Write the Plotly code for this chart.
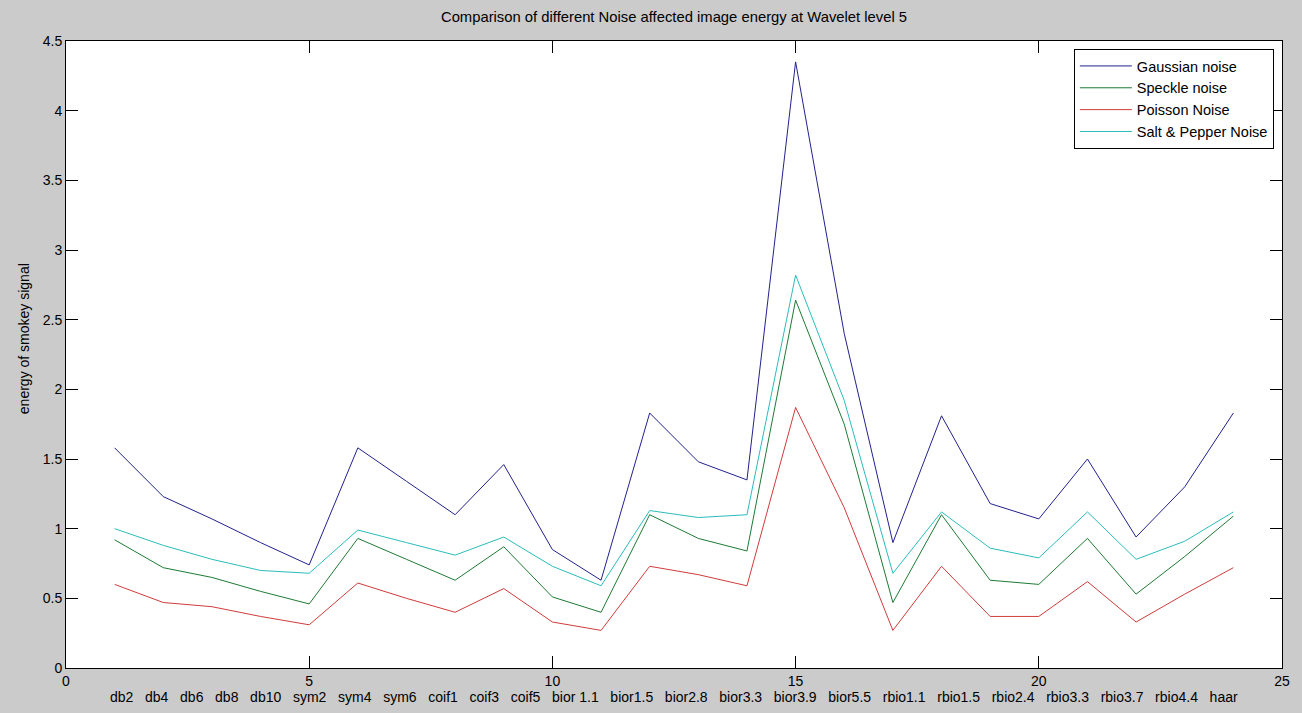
import plotly.graph_objects as go

# Data
x_index = list(range(1, 25))
wavelets = ["db2", "db4", "db6", "db8", "db10", "sym2", "sym4", "sym6", "coif1", "coif3",
            "coif5", "bior 1.1", "bior1.5", "bior2.8", "bior3.3", "bior3.9", "bior5.5",
            "rbio1.1", "rbio1.5", "rbio2.4", "rbio3.3", "rbio3.7", "rbio4.4", "haar"]
gaussian = [1.58, 1.23, 1.07, 0.90, 0.74, 1.58, 1.34, 1.10, 1.46, 0.85, 0.63, 1.83,
            1.48, 1.35, 4.35, 2.40, 0.90, 1.81, 1.18, 1.07, 1.50, 0.94, 1.30, 1.83]
speckle = [0.92, 0.72, 0.65, 0.55, 0.46, 0.93, 0.78, 0.63, 0.87, 0.51, 0.40, 1.10,
           0.93, 0.84, 2.64, 1.75, 0.47, 1.10, 0.63, 0.60, 0.93, 0.53, 0.80, 1.09]
poisson = [0.60, 0.47, 0.44, 0.37, 0.31, 0.61, 0.50, 0.40, 0.57, 0.33, 0.27, 0.73,
           0.67, 0.59, 1.87, 1.15, 0.27, 0.73, 0.37, 0.37, 0.62, 0.33, 0.53, 0.72]
salt_pepper = [1.00, 0.88, 0.78, 0.70, 0.68, 0.99, 0.90, 0.81, 0.94, 0.73, 0.59, 1.13,
               1.08, 1.10, 2.82, 1.92, 0.68, 1.12, 0.86, 0.79, 1.12, 0.78, 0.91, 1.12]
series_names = ["Gaussian noise", "Speckle noise", "Poisson Noise", "Salt & Pepper Noise"]
series_values = [gaussian, speckle, poisson, salt_pepper]
series_colors = ["#22228c", "#1f7a34", "#d03c3c", "#2cbcbc"]

FONT = "Liberation Sans, Arial, sans-serif"

fig = go.Figure()
for i, (name, vals, col) in enumerate(zip(series_names, series_values, series_colors)):
    fig.add_trace(go.Scatter(x=x_index, y=vals, mode="lines", name=name,
                             legendgroup=f"g{i}",
                             line=dict(color=col, width=1)))

axis_common = dict(showgrid=False, zeroline=False, showline=True, linecolor="black",
                   linewidth=1, mirror="ticks", ticks="inside", ticklen=12,
                   tickcolor="black", tickwidth=1,
                   tickfont=dict(family=FONT, size=14, color="black"))

fig.update_layout(
    width=1302, height=713,
    paper_bgcolor="#cbcbcb", plot_bgcolor="white",
    margin=dict(l=66, r=15, t=41, b=45),
    font=dict(family=FONT, size=14, color="black"),
    title=dict(text="Comparison of different Noise affected image energy at Wavelet level 5",
               x=0.5, xref="paper", xanchor="center", y=1 - 17 / 713, yanchor="middle",
               font=dict(family=FONT, size=14.8, color="black")),
    xaxis=dict(range=[0, 25], tick0=0, dtick=5, **axis_common),
    yaxis=dict(range=[0, 4.5], tick0=0, dtick=0.5, tickformat="~g", **axis_common),
    legend=dict(x=(1078 - 66) / 1221, y=(668 - 49) / 627, xanchor="left", yanchor="top",
                bgcolor="white", bordercolor="black", borderwidth=1,
                tracegroupgap=0, itemwidth=52,
                font=dict(family=FONT, size=14.5, color="black")),
    showlegend=True,
)

# Category row as an x label string (like the original)
category_text = "\u00a0\u00a0\u00a0".join(wavelets)
fig.add_annotation(text=category_text, xref="paper", yref="paper", x=0.5, y=-(697 - 668) / 627,
                   xanchor="center", yanchor="middle", showarrow=False,
                   font=dict(family=FONT, size=14, color="black"))

fig.add_annotation(text="energy of smokey signal", xref="paper", yref="paper",
                   x=(24 - 66) / 1221, y=(668 - 339) / 627, textangle=-90,
                   xanchor="center", yanchor="middle", showarrow=False,
                   font=dict(family=FONT, size=14, color="black"))

fig.write_html("out.html", config={"displayModeBar": False},
               post_script="document.body.style.margin='0';document.body.style.padding='0';")
